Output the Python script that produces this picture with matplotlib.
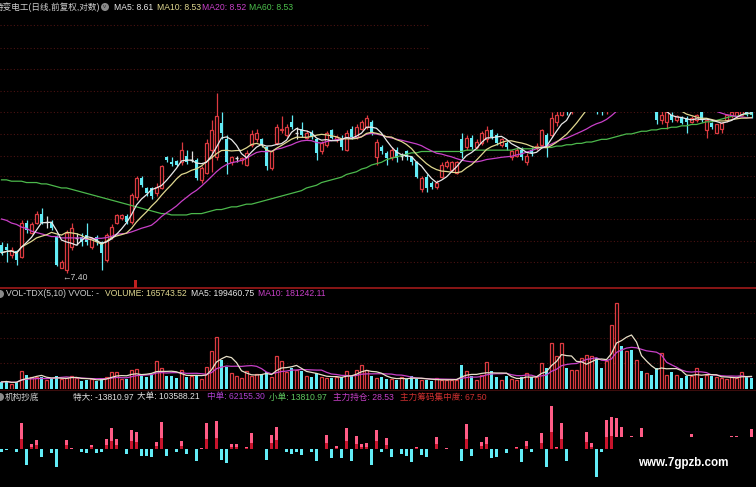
import numpy as np
import pandas as pd
import matplotlib
matplotlib.use('Agg')
import matplotlib.pyplot as plt
from matplotlib.patches import Rectangle, Ellipse

plt.rcParams['font.family'] = ['Liberation Sans', 'Noto Sans CJK SC', 'DejaVu Sans']

# 日K数据 (开, 收, 高, 低)
opens = [7.61, 7.59, 7.53, 7.56, 7.52, 7.77, 7.70, 7.77, 7.84, 7.78, 7.77, 7.67, 7.44, 7.42, 7.59, 7.66, 7.67, 7.68, 7.59, 7.67,
         7.63, 7.50, 7.67, 7.77, 7.81, 7.82, 7.78, 7.96, 8.10, 8.03, 8.03, 7.99, 8.03, 8.26, 8.22, 8.23, 8.22, 8.27, 8.24, 8.24,
         8.09, 8.14, 8.31, 8.26, 8.51, 8.39, 8.22, 8.25, 8.24, 8.20, 8.35, 8.39, 8.39, 8.33, 8.18, 8.36, 8.46, 8.42, 8.52, 8.44,
         8.47, 8.40, 8.44, 8.39, 8.30, 8.35, 8.46, 8.39, 8.40, 8.31, 8.47, 8.41, 8.47, 8.48, 8.52, 8.26, 8.33, 8.29, 8.26, 8.31,
         8.27, 8.30, 8.26, 8.22, 8.02, 8.11, 8.07, 8.04, 8.11, 8.19, 8.16, 8.14, 8.39, 8.33, 8.40, 8.33, 8.36, 8.39, 8.46, 8.42,
         8.35, 8.36, 8.26, 8.27, 8.31, 8.22, 8.31, 8.33, 8.35, 8.42, 8.42, 8.52, 8.57, 8.64, 8.60, 8.62, 8.70, 8.76, 8.80, 8.85,
         8.72, 8.64, 8.72, 8.84, 8.92, 8.76, 8.80, 8.70, 8.74, 8.64, 8.68, 8.60, 8.53, 8.52, 8.57, 8.53, 8.55, 8.55, 8.52, 8.53,
         8.59, 8.46, 8.51, 8.44, 8.47, 8.53, 8.56, 8.56, 8.57, 8.62, 8.60]
closes = [7.55, 7.57, 7.57, 7.50, 7.77, 7.72, 7.76, 7.84, 7.77, 7.78, 7.73, 7.46, 7.48, 7.70, 7.73, 7.66, 7.63, 7.63, 7.66, 7.63,
          7.55, 7.68, 7.74, 7.83, 7.83, 7.78, 7.98, 8.10, 8.05, 7.99, 7.97, 8.04, 8.19, 8.24, 8.21, 8.20, 8.31, 8.22, 8.24, 8.10,
          8.18, 8.36, 8.46, 8.56, 8.44, 8.22, 8.26, 8.25, 8.25, 8.29, 8.43, 8.44, 8.35, 8.19, 8.30, 8.48, 8.47, 8.48, 8.48, 8.44,
          8.42, 8.44, 8.41, 8.29, 8.36, 8.44, 8.40, 8.41, 8.33, 8.44, 8.41, 8.48, 8.52, 8.55, 8.44, 8.37, 8.30, 8.25, 8.31, 8.25,
          8.27, 8.26, 8.22, 8.11, 8.10, 8.03, 8.04, 8.07, 8.20, 8.22, 8.22, 8.22, 8.29, 8.40, 8.33, 8.37, 8.44, 8.46, 8.41, 8.36,
          8.39, 8.33, 8.30, 8.31, 8.26, 8.27, 8.29, 8.34, 8.46, 8.33, 8.55, 8.57, 8.60, 8.60, 8.66, 8.70, 8.78, 8.82, 8.85, 8.70,
          8.64, 8.72, 8.86, 8.95, 8.78, 8.80, 8.70, 8.74, 8.66, 8.68, 8.62, 8.53, 8.57, 8.59, 8.53, 8.56, 8.51, 8.52, 8.55, 8.57,
          8.53, 8.53, 8.48, 8.50, 8.51, 8.57, 8.59, 8.59, 8.60, 8.57, 8.57]
highs = [7.63, 7.62, 7.59, 7.57, 7.79, 7.79, 7.78, 7.86, 7.88, 7.82, 7.79, 7.68, 7.50, 7.72, 7.77, 7.70, 7.70, 7.77, 7.67, 7.68,
         7.64, 7.70, 7.76, 7.84, 7.84, 7.84, 7.99, 8.12, 8.12, 8.04, 8.04, 8.07, 8.20, 8.27, 8.26, 8.24, 8.37, 8.31, 8.30, 8.25,
         8.19, 8.39, 8.53, 8.73, 8.59, 8.42, 8.27, 8.27, 8.26, 8.31, 8.46, 8.47, 8.40, 8.34, 8.31, 8.50, 8.56, 8.50, 8.57, 8.48,
         8.52, 8.46, 8.46, 8.40, 8.38, 8.45, 8.47, 8.42, 8.42, 8.46, 8.49, 8.50, 8.53, 8.57, 8.53, 8.39, 8.35, 8.30, 8.33, 8.33,
         8.29, 8.31, 8.27, 8.23, 8.12, 8.13, 8.08, 8.09, 8.22, 8.24, 8.23, 8.23, 8.44, 8.42, 8.42, 8.39, 8.45, 8.49, 8.47, 8.44,
         8.40, 8.38, 8.31, 8.33, 8.33, 8.29, 8.33, 8.36, 8.47, 8.44, 8.59, 8.62, 8.66, 8.68, 8.70, 8.74, 8.82, 8.86, 8.90, 8.88,
         8.76, 8.76, 8.92, 9.05, 8.96, 8.85, 8.82, 8.78, 8.76, 8.72, 8.70, 8.64, 8.60, 8.62, 8.59, 8.57, 8.56, 8.56, 8.56, 8.58,
         8.62, 8.54, 8.52, 8.50, 8.52, 8.58, 8.60, 8.62, 8.63, 8.64, 8.62]
lows = [7.53, 7.48, 7.51, 7.46, 7.51, 7.70, 7.69, 7.76, 7.76, 7.73, 7.72, 7.45, 7.44, 7.40, 7.57, 7.61, 7.60, 7.61, 7.58, 7.61,
        7.42, 7.48, 7.65, 7.76, 7.79, 7.76, 7.76, 7.94, 8.04, 7.97, 7.95, 7.97, 8.02, 8.22, 8.19, 8.19, 8.20, 8.21, 8.22, 8.09,
        8.07, 8.13, 8.15, 8.24, 8.39, 8.13, 8.20, 8.22, 8.21, 8.19, 8.33, 8.37, 8.33, 8.16, 8.16, 8.35, 8.44, 8.41, 8.47, 8.39,
        8.41, 8.39, 8.39, 8.24, 8.28, 8.33, 8.39, 8.37, 8.31, 8.30, 8.39, 8.39, 8.46, 8.47, 8.42, 8.20, 8.28, 8.20, 8.24, 8.22,
        8.24, 8.24, 8.20, 8.10, 8.00, 8.00, 8.02, 8.02, 8.10, 8.18, 8.15, 8.13, 8.25, 8.31, 8.32, 8.32, 8.35, 8.37, 8.39, 8.35,
        8.33, 8.31, 8.24, 8.26, 8.24, 8.20, 8.27, 8.31, 8.33, 8.26, 8.41, 8.49, 8.56, 8.57, 8.58, 8.60, 8.66, 8.72, 8.76, 8.58,
        8.57, 8.58, 8.68, 8.80, 8.72, 8.70, 8.66, 8.66, 8.62, 8.61, 8.60, 8.50, 8.50, 8.47, 8.52, 8.52, 8.50, 8.44, 8.51, 8.52,
        8.52, 8.40, 8.47, 8.44, 8.44, 8.52, 8.55, 8.55, 8.56, 8.56, 8.55]

# MA60
ma60 = [8.09, 8.09, 8.08, 8.08, 8.08, 8.07, 8.07, 8.07, 8.06, 8.06, 8.05, 8.04, 8.03, 8.03, 8.02, 8.01, 8.00, 7.99, 7.98, 7.97,
        7.96, 7.95, 7.94, 7.93, 7.92, 7.91, 7.90, 7.89, 7.88, 7.87, 7.86, 7.85, 7.84, 7.84, 7.83, 7.83, 7.83, 7.83, 7.84, 7.84,
        7.84, 7.85, 7.86, 7.87, 7.87, 7.88, 7.89, 7.89, 7.90, 7.91, 7.91, 7.92, 7.93, 7.94, 7.95, 7.96, 7.97, 7.98, 7.99, 8.00,
        8.01, 8.03, 8.04, 8.05, 8.07, 8.08, 8.09, 8.10, 8.11, 8.13, 8.14, 8.15, 8.17, 8.18, 8.20, 8.21, 8.22, 8.24, 8.25, 8.26,
        8.27, 8.28, 8.29, 8.29, 8.30, 8.30, 8.30, 8.30, 8.30, 8.30, 8.30, 8.30, 8.30, 8.31, 8.31, 8.31, 8.31, 8.31, 8.31, 8.31,
        8.31, 8.31, 8.31, 8.32, 8.32, 8.32, 8.32, 8.33, 8.33, 8.33, 8.33, 8.34, 8.34, 8.35, 8.35, 8.36, 8.36, 8.37, 8.37, 8.38,
        8.39, 8.39, 8.40, 8.41, 8.42, 8.43, 8.43, 8.44, 8.45, 8.45, 8.46, 8.46, 8.47, 8.47, 8.48, 8.48, 8.49, 8.49, 8.50, 8.50,
        8.51, 8.52, 8.52, 8.53, 8.54, 8.55, 8.56, 8.56, 8.57, 8.58, 8.58]

# MA20 前19根 (历史不足, 从图上读出)
ma20_head = [7.80, 7.79, 7.77, 7.76, 7.74, 7.73, 7.71, 7.70, 7.69, 7.68, 7.67, 7.67, 7.66, 7.66, 7.66, 7.66, 7.66, 7.65, 7.65]

# 成交量 (千手)
vol_k = [105, 120, 75, 105, 270, 210, 180, 180, 180, 135, 150, 195, 150, 165, 195, 165, 120, 135, 150, 120,
         165, 180, 255, 255, 150, 150, 285, 300, 195, 180, 210, 420, 315, 195, 195, 165, 285, 180, 195, 195,
         150, 330, 570, 780, 435, 330, 240, 195, 165, 270, 195, 225, 225, 255, 180, 495, 420, 255, 315, 285,
         270, 195, 180, 240, 180, 165, 165, 180, 180, 270, 195, 285, 360, 285, 195, 165,
         180, 150, 150, 135, 180, 150, 195, 150, 135, 135, 120, 165, 135, 135, 135, 135, 360, 270, 195, 135,
         210, 405, 270, 180, 135, 195, 150, 135, 180, 240, 180, 180, 390, 315, 690, 495, 690, 315, 285, 285,
         465, 510, 495, 465, 315, 420, 960, 1290, 645, 570, 585, 435, 270, 240, 210, 315, 540, 210, 255, 210,
         165, 195, 195, 315, 165, 210, 195, 180, 165, 150, 180, 165, 255, 180, 165]

# 机构抄底 (千)
inst_k = [-15, -5, 2.5, -15, 130, -80, 25, 45, -40, 2.5, -20, -90, 2.5, 45, 5, 2.5, -15, -20, 20, -20,
          -15, 50, 105, 50, 2.5, -25, 95, 85, -35, -35, -40, 35, 135, -35, 2.5, -15, 40, -25, 2.5, -60,
          5, 130, 2.5, 140, -55, -70, 25, 25, 2.5, 10, 80, 2.5, 2.5, -55, 70, 110, 2.5, -15, -25, -15,
          -30, 2.5, -15, -60, 2.5, 70, -45, 15, -45, 105, -60, 65, 25, 30, -80, 95,
          -15, 55, -40, 2.5, -25, -35, -65, 10, -30, -40, 2.5, 60, 2.5, 5, 2.5, 2.5, -60, 125, -35, 2.5,
          35, 60, -45, -40, 2.5, -20, 2.5, 10, -65, 40, -15, 2.5, 80, -90, 215, 10, 130, -60, 2.5, 2.5,
          2.5, 85, 30, -140, -15, 145, 160, 155, 110, -30, 65, -20, 105, 25, -40, 20, -35, 30, -25, 15,
          -20, -30, 75, 20, -25, 15, -20, 25, 20, -15, 65, 65, 30, -25, 100]

W, H = 756, 487
RED = '#dc3a40'
CYAN = '#62ecf6'
GRID = '#4a1212'

fig = plt.figure(figsize=(W / 100, H / 100), dpi=100, facecolor='black')


def band(top, bottom):
    return [0, 1 - bottom / H, 1, (bottom - top) / H]


ax_p = fig.add_axes(band(0, 288))
ax_v = fig.add_axes(band(288, 389))
ax_i = fig.add_axes(band(389, 487))
for ax in (ax_p, ax_v, ax_i):
    ax.set_facecolor('black')
    ax.set_xlim(-0.3, 150.9)
    ax.set_xticks([])
    ax.set_yticks([])
    for s in ax.spines.values():
        s.set_visible(False)

x = np.arange(len(closes))
o = np.array(opens)
c = np.array(closes)
hi = np.array(highs)
lo = np.array(lows)
up = c > o
down = c < o
flat = c == o

# 价格网格
ax_p.set_ylim(7.289, 9.422)
for lv in [7.48, 7.64, 7.80, 7.96, 8.12, 8.27, 8.43, 8.59, 8.75, 8.91, 9.07, 9.24]:
    ax_p.axhline(lv, color=GRID, lw=0.8, ls=(0, (1, 2)), zorder=0)

# K线
bw = 0.68
top_b = np.maximum(o, c)
bot_b = np.minimum(o, c)
ax_p.vlines(x[up], hi[up], top_b[up], color=RED, lw=0.9, zorder=2)
ax_p.vlines(x[up], bot_b[up], lo[up], color=RED, lw=0.9, zorder=2)
ax_p.bar(x[up], (c - o)[up], bottom=o[up], width=bw, facecolor='black', edgecolor=RED, lw=0.9, zorder=3)
ax_p.vlines(x[down], lo[down], hi[down], color=CYAN, lw=0.9, zorder=2)
ax_p.bar(x[down], (o - c)[down], bottom=c[down], width=bw, color=CYAN, lw=0, zorder=3)
ax_p.vlines(x[flat], lo[flat], hi[flat], color='#e0e0e0', lw=0.9, zorder=2)
ax_p.hlines(c[flat], x[flat] - bw / 2, x[flat] + bw / 2, color='#e0e0e0', lw=1, zorder=3)

cs = pd.Series(closes)
ma20 = cs.rolling(20, min_periods=1).mean().to_numpy()
ma20[:len(ma20_head)] = ma20_head
ax_p.plot(x, ma60, color='#4cb84c', lw=0.9, zorder=4)
ax_p.plot(x, ma20, color='#c840c8', lw=0.9, zorder=4)
ax_p.plot(x, cs.rolling(10, min_periods=1).mean(), color='#e0d890', lw=0.9, zorder=4)
ax_p.plot(x, cs.rolling(5, min_periods=1).mean(), color='#e8e8e8', lw=0.9, zorder=4)

# 成交量
v = np.array(vol_k)
ax_v.set_ylim(0, 1515)
for lv in [390, 765, 1140]:
    ax_v.axhline(lv, color=GRID, lw=0.8, ls=(0, (1, 2)), zorder=0)
ax_v.bar(x[~down], v[~down], width=0.72, facecolor='black', edgecolor=RED, lw=0.9, zorder=2)
ax_v.bar(x[down], v[down], width=0.72, color=CYAN, lw=0, zorder=2)
vs = pd.Series(vol_k)
ax_v.plot(x, vs.rolling(10, min_periods=1).mean(), color='#c840c8', lw=0.9, zorder=3)
ax_v.plot(x, vs.rolling(5, min_periods=1).mean(), color='#e8e0c8', lw=0.9, zorder=3)

# 机构抄底
f = np.array(inst_k)
ax_i.set_ylim(-190, 300)
pos = f > 0
ax_i.bar(x[pos], f[pos], width=0.75, color='#ff5c86', lw=0, zorder=2)
ax_i.bar(x[pos], f[pos] * 0.4, width=0.75, color='#c8142c', lw=0, zorder=3)
ax_i.bar(x[~pos], f[~pos], width=0.75, color=CYAN, lw=0, zorder=2)

# 分隔线
fig.add_artist(plt.Line2D([0, 1], [1 - 288 / H] * 2, color='#a01a1a', lw=1.2))
fig.add_artist(plt.Line2D([0, 1], [1 - 389.5 / H] * 2, color='#3a0c0c', lw=0.8))


def pbox(x0, y0, x1, y1, color='black'):
    fig.add_artist(Rectangle((x0 / W, 1 - y1 / H), (x1 - x0) / W, (y1 - y0) / H,
                             transform=fig.transFigure, facecolor=color, edgecolor='none', zorder=2))


pbox(430, 0, W, 112)
pbox(615, 437, W, H)
pbox(134, 280, 137, 288, '#c02020')


def txt(px, py, s, color, size=6.2, **kw):
    fig.text(px / W, 1 - py / H, s, color=color, fontsize=size, va='center', ha='left', zorder=6, **kw)


def icon(px, py):
    fig.add_artist(Ellipse((px / W, 1 - py / H), 8 / W, 8 / H, transform=fig.transFigure,
                           facecolor='#8a8a8a', edgecolor='none', zorder=6))


txt(-5, 7, '特变电工(日线,前复权,对数)', '#cfcfcf')
icon(105, 7)
fig.text(105 / W, 1 - 7 / H, 'v', color='#303030', fontsize=4.5, ha='center', va='center', zorder=7)
txt(114, 7, 'MA5: 8.61', '#e8e8e8')
txt(157, 7, 'MA10: 8.53', '#e0d890')
txt(202, 7, 'MA20: 8.52', '#c840c8')
txt(249, 7, 'MA60: 8.53', '#4cc04c')

icon(0, 294)
txt(6, 294, 'VOL-TDX(5,10) VVOL: -', '#cfcfcf')
txt(105, 294, 'VOLUME: 165743.52', '#e0d890')
txt(191, 294, 'MA5: 199460.75', '#e8e8e8')
txt(258, 294, 'MA10: 181242.11', '#c840c8')

icon(0, 397)
txt(5, 397, '机构抄底', '#cfcfcf')
txt(73, 397, '特大: -13810.97', '#e0e0e0')
txt(137, 397, '大单: 103588.21', '#e0e0e0')
txt(207, 397, '中单: 62155.30', '#b040d0')
txt(269, 397, '小单: 13810.97', '#60c860')
txt(333, 397, '主力持仓: 28.53', '#c840c8')
txt(400, 397, '主力筹码集中度: 67.50', '#d03030')

txt(62, 278, '←7.40', '#c8c8c8')
fig.text(683 / W, 1 - 463 / H, 'www.7gpzb.com', color='white', fontsize=8.4, fontweight='bold',
         ha='center', va='center', zorder=6)

fig.savefig('out.png', dpi=100, facecolor='black')
